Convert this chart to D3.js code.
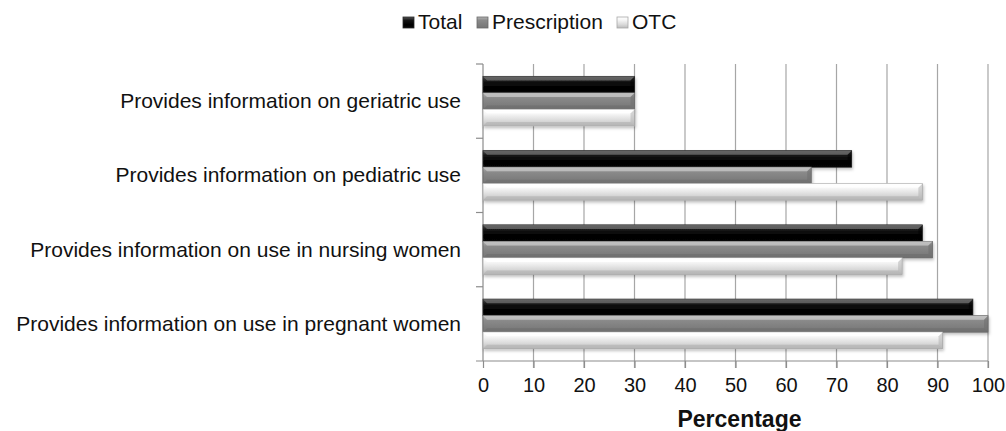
<!DOCTYPE html>
<html>
<head>
<meta charset="utf-8">
<script src="https://cdn.jsdelivr.net/npm/d3@7"></script>
<style>
  body { margin: 0; background: #fff; }
  text { font-family: "Liberation Sans", Arial, sans-serif; fill: #111; }
</style>
</head>
<body>
<div id="chart"></div>
<script>
// Data
const categories = [
    "Provides information on geriatric use",
    "Provides information on pediatric use",
    "Provides information on use in nursing women",
    "Provides information on use in pregnant women"
];
const seriesNames = ["Total", "Prescription", "OTC"];
const totalValues = [30, 73, 87, 97];
const prescriptionValues = [30, 65, 89, 100];
const otcValues = [30, 87, 83, 91];
const xTicks = [0, 10, 20, 30, 40, 50, 60, 70, 80, 90, 100];

const width = 1006, height = 431;
const margin = { top: 64, right: 18, bottom: 70, left: 483 };

let svg = d3.select('#chart')
    .append('svg')
    .attr('width', width)
    .attr('height', height);

// gradients for the bevelled bar look
const styles = {
    Total:        { stops: ['#555', '#151515', '#000', '#0a0a0a'], stroke: '#2a2a2a', hi: '#6a6a6a', lo: '#000' },
    Prescription: { stops: ['#b5b5b5', '#8a8a8a', '#7e7e7e', '#767676'], stroke: '#6a6a6a', hi: '#c4c4c4', lo: '#6c6c6c' },
    OTC:          { stops: ['#ffffff', '#f4f4f4', '#d8d8d8', '#bcbcbc'], stroke: '#a8a8a8', hi: '#ffffff', lo: '#b0b0b0' }
};
let defs = svg.append('defs');
seriesNames.forEach(function(s) {
    let g = defs.append('linearGradient')
        .attr('id', 'grad-' + s)
        .attr('x1', 0).attr('y1', 0).attr('x2', 0).attr('y2', 1);
    [0, 0.3, 0.7, 1].forEach(function(o, i) {
        g.append('stop').attr('offset', o).attr('stop-color', styles[s].stops[i]);
    });
});
let shadow = defs.append('filter').attr('id', 'shadow')
    .attr('x', '-5%').attr('y', '-20%').attr('width', '115%').attr('height', '160%');
shadow.append('feDropShadow')
    .attr('dx', 1).attr('dy', 2).attr('stdDeviation', 1.5)
    .attr('flood-color', '#000').attr('flood-opacity', 0.25);

// Scales
let x = d3.scaleLinear()
    .domain([0, 100])
    .range([margin.left, width - margin.right]);

let y = d3.scaleBand()
    .domain(categories)
    .range([margin.top, height - margin.bottom]);

let ySub = d3.scaleBand()
    .domain(seriesNames)
    .range([0, y.bandwidth()])
    .paddingOuter(0.75)
    .paddingInner(0);

// Gridlines
svg.append('g')
    .selectAll('line')
    .data(xTicks.slice(1))
    .enter()
    .append('line')
    .attr('x1', d => x(d)).attr('x2', d => x(d))
    .attr('y1', margin.top).attr('y2', height - margin.bottom + 7)
    .attr('stroke', '#a6a6a6')
    .attr('stroke-width', 1.2);

// X axis
let xAxis = svg.append('g')
    .attr('transform', 'translate(0,' + (height - margin.bottom) + ')')
    .call(d3.axisBottom(x).tickValues(xTicks).tickSize(7).tickPadding(10).tickSizeOuter(0));
xAxis.select('.domain').remove();
xAxis.append('line')
    .attr('x1', margin.left - 7).attr('x2', x(100))
    .attr('stroke', '#8c8c8c').attr('stroke-width', 1.2);
xAxis.selectAll('.tick line').attr('stroke', '#8c8c8c').attr('stroke-width', 1.2);
xAxis.selectAll('.tick text')
    .attr('font-size', 20)
    .attr('fill', '#111')
    .style('font-family', '"Liberation Sans", Arial, sans-serif');

// Y axis
let yAxis = svg.append('g')
    .attr('transform', 'translate(' + margin.left + ',0)');
yAxis.append('line')
    .attr('x1', 0).attr('x2', 0)
    .attr('y1', margin.top).attr('y2', height - margin.bottom)
    .attr('stroke', '#8c8c8c').attr('stroke-width', 1.2);
yAxis.selectAll('.ytick')
    .data(categories)
    .enter()
    .append('line')
    .attr('x1', -7).attr('x2', 0)
    .attr('y1', d => y(d)).attr('y2', d => y(d))
    .attr('stroke', '#8c8c8c').attr('stroke-width', 1.2);
yAxis.selectAll('.ylabel')
    .data(categories)
    .enter()
    .append('text')
    .attr('x', -22)
    .attr('y', d => y(d) + y.bandwidth() / 2 + 7)
    .attr('text-anchor', 'end')
    .attr('font-size', 21)
    .text(d => d);

// Bars
const seriesValues = { Total: totalValues, Prescription: prescriptionValues, OTC: otcValues };
let barData = [];
categories.forEach(function(c, i) {
    seriesNames.forEach(function(s) {
        barData.push({ category: c, series: s, value: seriesValues[s][i] });
    });
});

let bars = svg.append('g')
    .selectAll('g')
    .data(barData)
    .enter()
    .append('g')
    .attr('transform', d => 'translate(' + x(0) + ',' + (y(d.category) + ySub(d.series)) + ')');

let bh = ySub.bandwidth();
bars.append('rect')
    .attr('width', d => x(d.value) - x(0))
    .attr('height', bh)
    .attr('fill', d => 'url(#grad-' + d.series + ')')
    .attr('stroke', d => styles[d.series].stroke)
    .attr('stroke-width', 0.8)
    .attr('filter', 'url(#shadow)');

// bevel: lighter top facet, darker bottom facet
let bev = 4;
bars.append('path')
    .attr('d', function(d) {
        let w = x(d.value) - x(0);
        return 'M0,0 L' + w + ',0 L' + (w - bev) + ',' + bev + ' L' + bev + ',' + bev + ' Z';
    })
    .attr('fill', d => styles[d.series].hi)
    .attr('opacity', 0.8);
bars.append('path')
    .attr('d', function(d) {
        let w = x(d.value) - x(0);
        return 'M0,' + bh + ' L' + w + ',' + bh + ' L' + (w - bev) + ',' + (bh - bev) + ' L' + bev + ',' + (bh - bev) + ' Z';
    })
    .attr('fill', d => styles[d.series].lo)
    .attr('opacity', 0.6);
bars.append('path')
    .attr('d', function(d) {
        let w = x(d.value) - x(0);
        return 'M' + w + ',0 L' + w + ',' + bh + ' L' + (w - bev) + ',' + (bh - bev) + ' L' + (w - bev) + ',' + bev + ' Z';
    })
    .attr('fill', d => styles[d.series].lo)
    .attr('opacity', 0.5);

// X axis title
svg.append('text')
    .attr('x', (x(0) + x(100)) / 2 + 4)
    .attr('y', 427)
    .attr('text-anchor', 'middle')
    .attr('font-size', 23)
    .attr('font-weight', 'bold')
    .text('Percentage');

// Legend
let legendX = [403, 477, 617];
let legend = svg.append('g')
    .selectAll('g')
    .data(seriesNames)
    .enter()
    .append('g')
    .attr('transform', (d, i) => 'translate(' + legendX[i] + ',0)');
legend.append('rect')
    .attr('x', 0).attr('y', 17)
    .attr('width', 11).attr('height', 11)
    .attr('fill', d => 'url(#grad-' + d + ')')
    .attr('stroke', d => styles[d].stroke)
    .attr('stroke-width', 0.8);
legend.append('text')
    .attr('x', 15)
    .attr('y', 29)
    .attr('font-size', 21)
    .text(d => d);
</script>
</body>
</html>
